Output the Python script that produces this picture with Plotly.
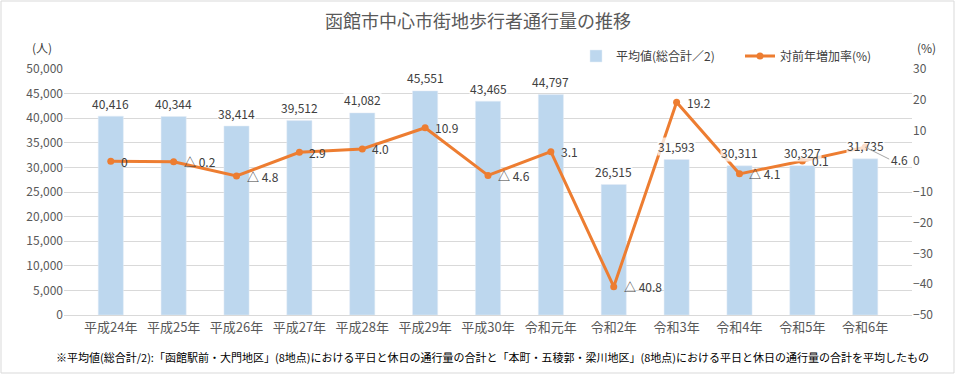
import plotly.graph_objects as go

categories = ["平成24年", "平成25年", "平成26年", "平成27年", "平成28年", "平成29年", "平成30年",
              "令和元年", "令和2年", "令和3年", "令和4年", "令和5年", "令和6年"]
avg_values = [40416, 40344, 38414, 39512, 41082, 45551, 43465, 44797, 26515, 31593, 30311, 30327, 31735]
yoy_rates = [0, -0.2, -4.8, 2.9, 4.0, 10.9, -4.6, 3.1, -40.8, 19.2, -4.1, 0.1, 4.6]
yoy_labels = ["0", "△ 0.2", "△ 4.8", "2.9", "4.0", "10.9", "△ 4.6", "3.1", "△ 40.8", "19.2", "△ 4.1", "0.1", "4.6"]

FONT = "Noto Sans CJK JP"
W, H = 955, 374
ML, MR, MT, MB = 64, 43, 69, 59
PW, PH = W - ML - MR, H - MT - MB

fig = go.Figure()
fig.add_trace(go.Bar(
    x=categories, y=avg_values, name="平均値(総合計／2)",
    marker=dict(color="#BDD7EE"), width=0.4, yaxis="y",
))
fig.add_trace(go.Scatter(
    x=categories, y=yoy_rates, name="対前年増加率(%)", yaxis="y2",
    mode="lines+markers", line=dict(color="#ED7D31", width=3),
    marker=dict(color="#ED7D31", size=7),
))

annotations = []
for c, v in zip(categories, avg_values):
    annotations.append(dict(
        x=c, y=v, xref="x", yref="y", text=f"{v:,}", showarrow=False,
        yanchor="middle", yshift=13, font=dict(family=FONT, size=12, color="#404040"),
        bgcolor="rgba(255,255,255,0.75)", borderpad=0,
    ))
for i, (c, r, lab) in enumerate(zip(categories, yoy_rates, yoy_labels)):
    if i == len(categories) - 1:
        annotations.append(dict(
            x=c, y=r, xref="x", yref="y2", text=lab, showarrow=True,
            arrowhead=0, arrowwidth=1, arrowcolor="#A6A6A6", ax=24, ay=12,
            xanchor="left", font=dict(family=FONT, size=12, color="#404040"),
        ))
    else:
        annotations.append(dict(
            x=c, y=r, xref="x", yref="y2", text=lab, showarrow=False,
            xanchor="left", yanchor="middle", xshift=8,
            font=dict(family=FONT, size=12, color="#404040"),
        ))

annotations.append(dict(x=-22 / PW, y=1 + 21 / PH, xref="paper", yref="paper", text="(人)",
                        showarrow=False, xanchor="center", yanchor="middle",
                        font=dict(family=FONT, size=12, color="#404040")))
annotations.append(dict(x=1 + 14 / PW, y=1 + 21 / PH, xref="paper", yref="paper", text="(%)",
                        showarrow=False, xanchor="center", yanchor="middle",
                        font=dict(family=FONT, size=12, color="#404040")))
annotations.append(dict(x=(492 - ML) / PW, y=-(357 - MT - PH) / PH, xref="paper", yref="paper",
                        text="※平均値(総合計/2):「函館駅前・大門地区」(8地点)における平日と休日の通行量の合計と「本町・五稜郭・梁川地区」(8地点)における平日と休日の通行量の合計を平均したもの",
                        showarrow=False, xanchor="center", yanchor="middle",
                        font=dict(family=FONT, size=11, color="#000000")))

shapes = [dict(type="rect", xref="paper", yref="paper",
               x0=-(ML - 1) / PW, x1=1 + (MR - 1) / PW,
               y0=-(MB - 1) / PH, y1=1 + (MT - 1) / PH,
               line=dict(color="#D9D9D9", width=1))]

fig.update_layout(
    width=W, height=H,
    margin=dict(l=ML, r=MR, t=MT, b=MB, autoexpand=False),
    paper_bgcolor="white", plot_bgcolor="white",
    title=dict(text="函館市中心市街地歩行者通行量の推移", x=478 / W, xanchor="center",
               y=1 - 22 / H, yanchor="middle",
               font=dict(family=FONT, size=18, color="#595959")),
    font=dict(family=FONT, size=12, color="#595959"),
    showlegend=True,
    legend=dict(orientation="h", x=(576 - ML) / PW, xanchor="left", y=1 + 13 / PH, yanchor="middle",
                font=dict(family=FONT, size=12, color="#404040"), bgcolor="rgba(0,0,0,0)",
                traceorder="normal", itemwidth=30, entrywidth=119),
    xaxis=dict(tickfont=dict(family=FONT, size=13, color="#595959"), showgrid=False,
               showline=True, linecolor="#D9D9D9", ticks="", automargin=False),
    yaxis=dict(range=[0, 50000], dtick=5000, tickformat=",", showgrid=True, gridcolor="#D9D9D9",
               gridwidth=1, zeroline=False, ticks="", automargin=False,
               tickfont=dict(family=FONT, size=12, color="#595959")),
    yaxis2=dict(range=[-50, 30], dtick=10, overlaying="y", side="right", showgrid=False,
                zeroline=False, ticks="", automargin=False,
                tickfont=dict(family=FONT, size=12, color="#595959")),
    annotations=annotations,
    shapes=shapes,
    bargap=0.6,
)

fig.write_html("out.html", config={"displayModeBar": False},
               post_script="document.body.style.margin='0';document.body.style.overflow='hidden';")
